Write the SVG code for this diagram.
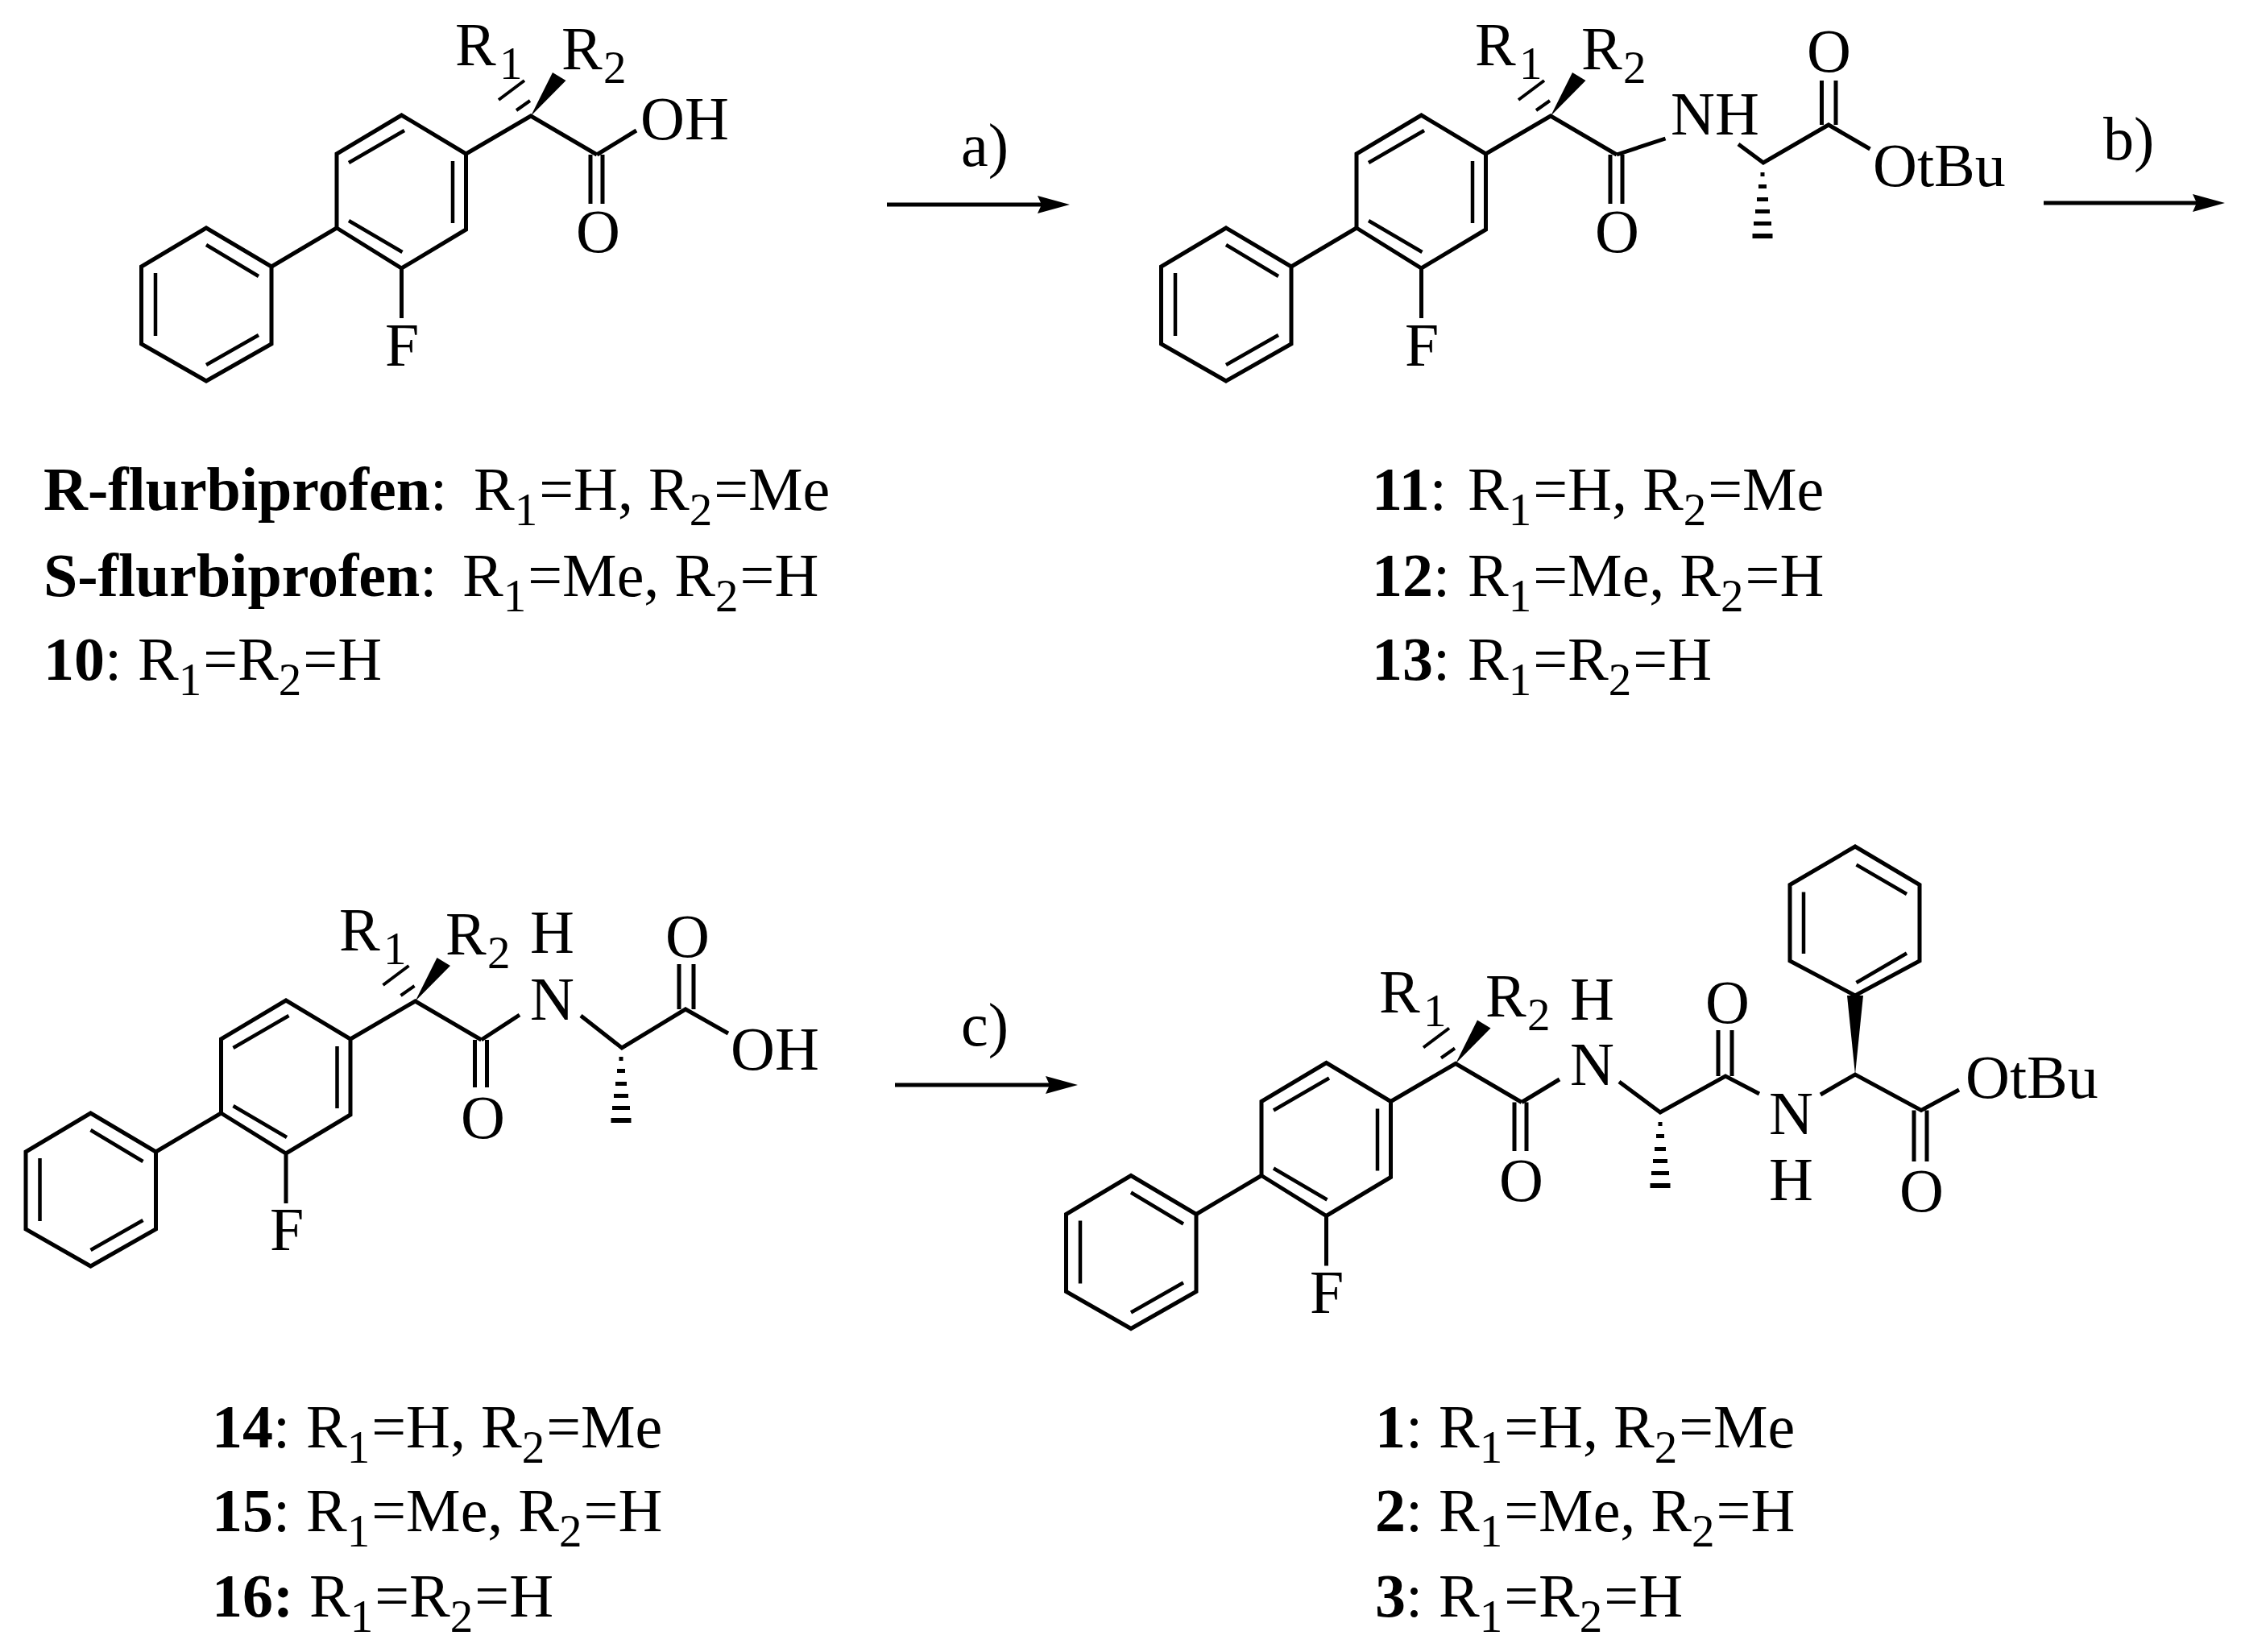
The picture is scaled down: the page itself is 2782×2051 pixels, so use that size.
<svg xmlns="http://www.w3.org/2000/svg" width="2782" height="2051" viewBox="0 0 2782 2051">
<style>
text{font-family:"Liberation Serif","Times New Roman",serif;font-size:76px;fill:#000}
.s{font-size:57px;letter-spacing:2px}
.b{font-weight:700}
.l{fill:none;stroke:#000;stroke-width:5;stroke-linejoin:miter}
.i{fill:none;stroke:#000;stroke-width:4.5}
.h{fill:none;stroke:#000;stroke-width:4}
.w{fill:#000}
</style>
<defs>
<g id="core">
<path class="l" d="M256 283L337 331V427L256 473L175.500 427V331Z"/>
<path class="l" d="M337 331L418 283V191L498.500 143L578.500 191V285L498.500 333L418 283M498.500 333V395M578.500 191L659 144L741 192"/>
<path class="i" d="M256 304L321 343M193 339V417M256 453L321 416M433 202L502 162M562 200V277M433 274L499.500 313"/>
<path class="w" d="M659 144L686 90L702.500 100Z"/>
<path class="h" d="M619 124L651 100M641 137L658 125"/>
</g>
<g id="hash">
<path class="w" d="M-2.500 0h5v5h-5zM-5 15h10v5h-10zM-7 31h14v5h-14zM-9 46h18v5h-18zM-11 61h22v5h-22zM-12.500 76h25v6h-25z"/>
</g>
<path id="head" class="w" d="M0 0L-40 -11L-35 0L-40 11Z"/>
</defs>

<g id="connectors">
<path class="l" d="M1101 254H1295M1111 1347H1305M2537 252H2730"/>
<use href="#head" x="1328" y="254"/>
<use href="#head" x="1338" y="1347"/>
<use href="#head" x="2762" y="252"/>
</g>
<g id="arrow-labels">
<text x="1193" y="206">a)</text>
<text x="2611" y="198">b)</text>
<text x="1193" y="1298">c)</text>
</g>

<g id="flurbiprofen">
<use href="#core"/>
<path class="l" d="M741 192L790 162M733 192V253M748 192V253"/>
<text x="565" y="81">R</text><text class="s" x="620" y="98">1</text>
<text x="697" y="86">R</text><text class="s" x="749" y="103">2</text>
<text x="795" y="173">OH</text>
<text x="715" y="313">O</text>
<text x="478" y="454">F</text>
</g>

<g id="compound-11-13">
<use href="#core" x="1266"/>
<path class="l" d="M2007 192L2067.500 172M1999 192V253M2014 192V253M2158 179L2189 202L2270 155L2321.500 185M2261.500 155V100M2279 155V100"/>
<use href="#hash" x="2188" y="214"/>
<text x="1831" y="81">R</text><text class="s" x="1886" y="98">1</text>
<text x="1963" y="86">R</text><text class="s" x="2015" y="103">2</text>
<text x="2074" y="167">NH</text>
<text x="2243" y="89">O</text>
<text x="1980" y="313">O</text>
<text x="2325" y="231">OtBu</text>
<text x="1744" y="454">F</text>
</g>

<g id="compound-14-16">
<use href="#core" x="-143.500" y="1099"/>
<path class="l" d="M597.500 1291L645 1260M589.500 1291V1350M604.500 1291V1350M721 1261L772 1301L851 1253L904 1283M843 1253V1197M861 1253V1197"/>
<use href="#hash" x="771" y="1312"/>
<text x="421" y="1180">R</text><text class="s" x="476" y="1197">1</text>
<text x="553" y="1185">R</text><text class="s" x="605" y="1202">2</text>
<text x="658" y="1183">H</text>
<text x="658" y="1266">N</text>
<text x="826" y="1188">O</text>
<text x="572" y="1413">O</text>
<text x="907" y="1328">OH</text>
<text x="335" y="1552">F</text>
</g>

<g id="compound-1-3">
<use href="#core" x="1148" y="1176.500"/>
<path class="l" d="M1889 1368.500L1936 1340M1880 1368.500V1429M1895 1368.500V1429M2010 1343L2061 1381L2142 1336L2184 1358M2133 1336V1279M2150 1336V1279M2260 1359L2303 1334L2385 1378.500L2432 1353M2376 1378.500V1442M2392 1378.500V1442"/>
<use href="#hash" x="2061" y="1393"/>
<path class="w" d="M2303 1334L2293 1236H2313Z"/>
<path class="l" d="M2303 1051L2383 1098.500V1193L2303 1236L2222 1193V1098.500Z"/>
<path class="i" d="M2304.500 1073.600L2367 1110M2239 1107.600V1184M2304.500 1220L2367 1183.500"/>
<text x="1712" y="1257">R</text><text class="s" x="1767" y="1274">1</text>
<text x="1844" y="1262">R</text><text class="s" x="1896" y="1279">2</text>
<text x="1949" y="1266">H</text>
<text x="1949" y="1347">N</text>
<text x="2117" y="1270">O</text>
<text x="1861" y="1491">O</text>
<text x="2196" y="1408">N</text>
<text x="2196" y="1490">H</text>
<text x="2358" y="1504">O</text>
<text x="2440" y="1363">OtBu</text>
<text x="1626" y="1630">F</text>
</g>

<g id="captions">
<text x="54" y="633"><tspan class="b">R-flurbiprofen</tspan>: <tspan x="588">R</tspan><tspan class="s" dy="19">1</tspan><tspan dy="-19">=H, R</tspan><tspan class="s" dy="19">2</tspan><tspan dy="-19">=Me</tspan></text>
<text x="54" y="740"><tspan class="b">S-flurbiprofen</tspan>: <tspan x="574">R</tspan><tspan class="s" dy="19">1</tspan><tspan dy="-19">=Me, R</tspan><tspan class="s" dy="19">2</tspan><tspan dy="-19">=H</tspan></text>
<text x="54" y="844"><tspan class="b">10</tspan>: <tspan x="171">R</tspan><tspan class="s" dy="19">1</tspan><tspan dy="-19">=R</tspan><tspan class="s" dy="19">2</tspan><tspan dy="-19">=H</tspan></text>

<text x="1703" y="633"><tspan class="b">11</tspan>: <tspan x="1822">R</tspan><tspan class="s" dy="19">1</tspan><tspan dy="-19">=H, R</tspan><tspan class="s" dy="19">2</tspan><tspan dy="-19">=Me</tspan></text>
<text x="1703" y="740"><tspan class="b">12</tspan>: <tspan x="1822">R</tspan><tspan class="s" dy="19">1</tspan><tspan dy="-19">=Me, R</tspan><tspan class="s" dy="19">2</tspan><tspan dy="-19">=H</tspan></text>
<text x="1703" y="844"><tspan class="b">13</tspan>: <tspan x="1822">R</tspan><tspan class="s" dy="19">1</tspan><tspan dy="-19">=R</tspan><tspan class="s" dy="19">2</tspan><tspan dy="-19">=H</tspan></text>

<text x="263" y="1797"><tspan class="b">14</tspan>: <tspan x="380">R</tspan><tspan class="s" dy="19">1</tspan><tspan dy="-19">=H, R</tspan><tspan class="s" dy="19">2</tspan><tspan dy="-19">=Me</tspan></text>
<text x="263" y="1901"><tspan class="b">15</tspan>: <tspan x="380">R</tspan><tspan class="s" dy="19">1</tspan><tspan dy="-19">=Me, R</tspan><tspan class="s" dy="19">2</tspan><tspan dy="-19">=H</tspan></text>
<text x="263" y="2007"><tspan class="b">16:</tspan> <tspan x="384">R</tspan><tspan class="s" dy="19">1</tspan><tspan dy="-19">=R</tspan><tspan class="s" dy="19">2</tspan><tspan dy="-19">=H</tspan></text>

<text x="1707" y="1797"><tspan class="b">1</tspan>: <tspan x="1786">R</tspan><tspan class="s" dy="19">1</tspan><tspan dy="-19">=H, R</tspan><tspan class="s" dy="19">2</tspan><tspan dy="-19">=Me</tspan></text>
<text x="1707" y="1901"><tspan class="b">2</tspan>: <tspan x="1786">R</tspan><tspan class="s" dy="19">1</tspan><tspan dy="-19">=Me, R</tspan><tspan class="s" dy="19">2</tspan><tspan dy="-19">=H</tspan></text>
<text x="1707" y="2007"><tspan class="b">3</tspan>: <tspan x="1786">R</tspan><tspan class="s" dy="19">1</tspan><tspan dy="-19">=R</tspan><tspan class="s" dy="19">2</tspan><tspan dy="-19">=H</tspan></text>
</g>
</svg>
